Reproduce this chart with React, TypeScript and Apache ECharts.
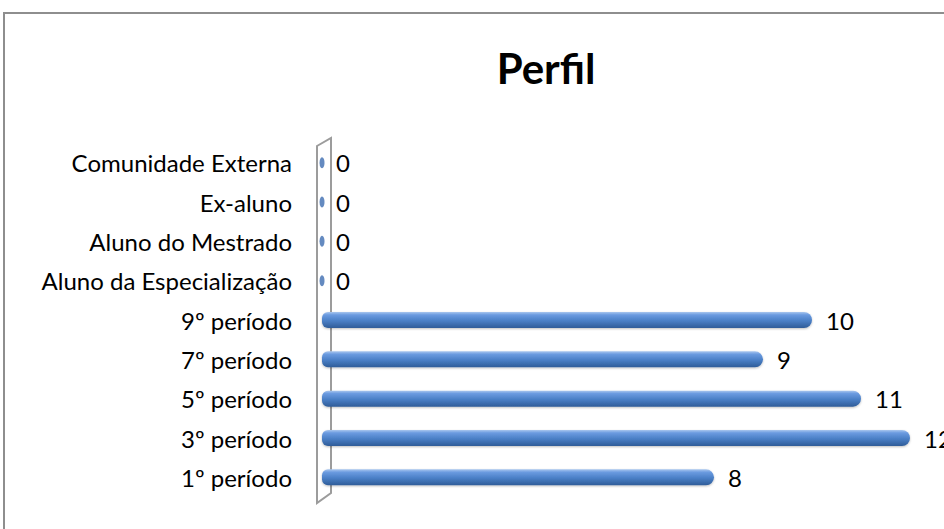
import React, { useEffect, useRef } from "react";
import * as echarts from "echarts";

const categories = [
  "1º período",
  "3º período",
  "5º período",
  "7º período",
  "9º período",
  "Aluno da Especialização",
  "Aluno do Mestrado",
  "Ex-aluno",
  "Comunidade Externa",
];
const values = [8, 12, 11, 9, 10, 0, 0, 0, 0];
const titleText = "Perfil";

const W = 944;
const H = 529;
const GRID_LEFT = 322;
const GRID_TOP = 143;
const GRID_W = 588;
const GRID_H = 354;
const FONT = "Lato, Carlito, 'Open Sans', sans-serif";

export default function App() {
  const ref = useRef<HTMLDivElement>(null);
  useEffect(() => {
    if (!ref.current) return;
    const chart = echarts.init(ref.current, null, { renderer: "svg" });
    const barGradient = new echarts.graphic.LinearGradient(0, 0, 0, 1, [
      { offset: 0, color: "#a9c6ee" },
      { offset: 0.18, color: "#6b9be0" },
      { offset: 0.55, color: "#4a7fc6" },
      { offset: 1, color: "#2f5c98" },
    ]);
    chart.setOption({
      animation: false,
      backgroundColor: "#ffffff",
      title: {
        text: titleText,
        left: 541,
        top: 42,
        textAlign: "center",
        textStyle: { fontFamily: FONT, fontWeight: "bold", fontSize: 42, color: "#000" },
      },
      grid: { left: GRID_LEFT, top: GRID_TOP, width: GRID_W, height: GRID_H, containLabel: false },
      xAxis: {
        type: "value",
        min: 0,
        max: 12,
        show: false,
      },
      yAxis: {
        type: "category",
        data: categories,
        axisLine: { show: false },
        axisTick: { show: false },
        axisLabel: {
          margin: 30,
          fontFamily: FONT,
          fontSize: 24,
          color: "#000",
        },
      },
      graphic: [
        {
          type: "rect",
          shape: { x: 4, y: 13, width: 1200, height: 800 },
          style: { fill: "none", stroke: "#8e8e8e", lineWidth: 2 },
          silent: true,
        },
        {
          type: "polygon",
          shape: {
            points: [
              [GRID_LEFT - 5, GRID_TOP + 3],
              [GRID_LEFT + 9, GRID_TOP - 5],
              [GRID_LEFT + 9, GRID_TOP + GRID_H - 4],
              [GRID_LEFT - 5, GRID_TOP + GRID_H + 6],
            ],
          },
          style: { fill: "#ffffff", stroke: "#9c9c9c", lineWidth: 2 },
          z: -1,
          silent: true,
        },
      ],
      series: [
        {
          type: "bar",
          data: values,
          barWidth: 16,
          itemStyle: {
            color: barGradient,
            borderRadius: [6, 8, 8, 6],
            shadowColor: "rgba(0,0,0,0.25)",
            shadowBlur: 2,
            shadowOffsetY: 1,
          },
          label: {
            show: true,
            position: "right",
            distance: 14,
            fontFamily: FONT,
            fontSize: 24,
            color: "#000",
          },
          z: 3,
        },
        {
          type: "scatter",
          data: values.map((v, i) => [v, i]),
          symbol: "circle",
          symbolSize: (d: number[]) => (d[0] === 0 ? [5, 11] : 0),
          itemStyle: { color: "#3d6db0" },
          z: 4,
        },
      ],
    });
    return () => chart.dispose();
  }, []);
  return (
    <div
      ref={ref}
      style={{ position: "fixed", left: 0, top: 0, width: W, height: H }}
    />
  );
}
